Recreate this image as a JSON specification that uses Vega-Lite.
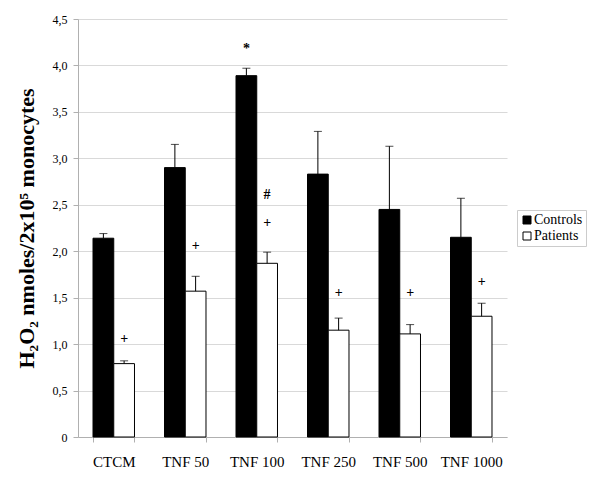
{
  "$schema": "https://vega.github.io/schema/vega-lite/v6.json",
  "width": 429,
  "height": 418,
  "autosize": "none",
  "padding": {"left": 78, "top": 19, "right": 93, "bottom": 43},
  "background": "white",
  "config": {
    "font": "Liberation Serif, Times New Roman, serif",
    "view": {"stroke": null},
    "axis": {"labelFont": "Liberation Serif, Times New Roman, serif", "titleFont": "Liberation Serif, Times New Roman, serif"},
    "legend": {"labelFont": "Liberation Serif, Times New Roman, serif"},
    "text": {"font": "Liberation Serif, Times New Roman, serif"}
  },
  "datasets": {
    "bars": [
      {"cond": "CTCM", "group": "Controls", "value": 2.14, "err": 2.19},
      {"cond": "CTCM", "group": "Patients", "value": 0.79, "err": 0.82},
      {"cond": "TNF 50", "group": "Controls", "value": 2.90, "err": 3.15},
      {"cond": "TNF 50", "group": "Patients", "value": 1.57, "err": 1.73},
      {"cond": "TNF 100", "group": "Controls", "value": 3.89, "err": 3.97},
      {"cond": "TNF 100", "group": "Patients", "value": 1.87, "err": 1.99},
      {"cond": "TNF 250", "group": "Controls", "value": 2.83, "err": 3.29},
      {"cond": "TNF 250", "group": "Patients", "value": 1.15, "err": 1.28},
      {"cond": "TNF 500", "group": "Controls", "value": 2.45, "err": 3.13},
      {"cond": "TNF 500", "group": "Patients", "value": 1.11, "err": 1.21},
      {"cond": "TNF 1000", "group": "Controls", "value": 2.15, "err": 2.57},
      {"cond": "TNF 1000", "group": "Patients", "value": 1.30, "err": 1.44}
    ],
    "marks": [
      {"cond": "CTCM", "group": "Patients", "y": 1.05, "label": "+"},
      {"cond": "TNF 50", "group": "Patients", "y": 2.06, "label": "+"},
      {"cond": "TNF 100", "group": "Controls", "y": 4.18, "label": "*"},
      {"cond": "TNF 100", "group": "Patients", "y": 2.30, "label": "+"},
      {"cond": "TNF 100", "group": "Patients", "y": 2.60, "label": "#"},
      {"cond": "TNF 250", "group": "Patients", "y": 1.55, "label": "+"},
      {"cond": "TNF 500", "group": "Patients", "y": 1.55, "label": "+"},
      {"cond": "TNF 1000", "group": "Patients", "y": 1.67, "label": "+"}
    ]
  },
  "encoding": {
    "x": {
      "field": "cond",
      "type": "nominal",
      "sort": ["CTCM", "TNF 50", "TNF 100", "TNF 250", "TNF 500", "TNF 1000"],
      "scale": {"paddingInner": 0.42, "paddingOuter": 0.21},
      "axis": {
        "title": null,
        "labelAngle": 0,
        "labelFont": "Liberation Serif, Times New Roman, serif",
        "labelFontSize": 15,
        "labelColor": "black",
        "labelPadding": 12,
        "domainColor": "#b0b0b0",
        "tickColor": "#b0b0b0",
        "tickBand": "extent",
        "tickSize": 5
      }
    },
    "xOffset": {"field": "group", "type": "nominal", "sort": ["Controls", "Patients"]}
  },
  "layer": [
    {
      "data": {"name": "bars"},
      "mark": {"type": "bar", "stroke": "black", "strokeWidth": 1},
      "encoding": {
        "y": {
          "field": "value",
          "type": "quantitative",
          "scale": {"domain": [0, 4.5], "nice": false},
          "axis": {
            "title": "H₂O₂ nmoles/2x10⁵ monocytes",
            "titleFont": "Liberation Serif, Times New Roman, serif",
            "titleFontSize": 22,
            "titleFontWeight": "bold",
            "titleColor": "black",
            "titlePadding": 14,
            "values": [0, 0.5, 1, 1.5, 2, 2.5, 3, 3.5, 4, 4.5],
            "labelExpr": "datum.value == 0 ? '0' : replace(format(datum.value, '.1f'), '.', ',')",
            "labelFont": "Liberation Serif, Times New Roman, serif",
            "labelFontSize": 12,
            "labelColor": "black",
            "labelPadding": 6,
            "domainColor": "#b0b0b0",
            "tickColor": "#b0b0b0",
            "tickSize": 5,
            "grid": true,
            "gridColor": "#d9d9d9"
          }
        },
        "fill": {
          "field": "group",
          "type": "nominal",
          "scale": {"domain": ["Controls", "Patients"], "range": ["black", "white"]},
          "legend": {
            "title": null,
            "orient": "none",
            "legendX": 439,
            "legendY": 191,
            "symbolType": "square",
            "symbolSize": 64,
            "symbolStrokeColor": "black",
            "symbolStrokeWidth": 1,
            "labelFont": "Liberation Serif, Times New Roman, serif",
            "labelFontSize": 14,
            "labelColor": "black",
            "labelOffset": 0,
            "rowPadding": 2,
            "padding": 3,
            "strokeColor": "#cccccc"
          }
        }
      }
    },
    {
      "data": {"name": "bars"},
      "mark": {"type": "rule", "color": "black", "strokeWidth": 1},
      "encoding": {
        "y": {"field": "value", "type": "quantitative"},
        "y2": {"field": "err"}
      }
    },
    {
      "data": {"name": "bars"},
      "mark": {"type": "tick", "color": "black", "thickness": 1, "size": 8},
      "encoding": {
        "y": {"field": "err", "type": "quantitative"}
      }
    },
    {
      "data": {"name": "marks"},
      "mark": {"type": "text", "font": "Liberation Serif, Times New Roman, serif", "fontSize": 14, "fontWeight": "bold", "baseline": "middle", "color": "black"},
      "encoding": {
        "y": {"field": "y", "type": "quantitative"},
        "text": {"field": "label"}
      }
    }
  ]
}
